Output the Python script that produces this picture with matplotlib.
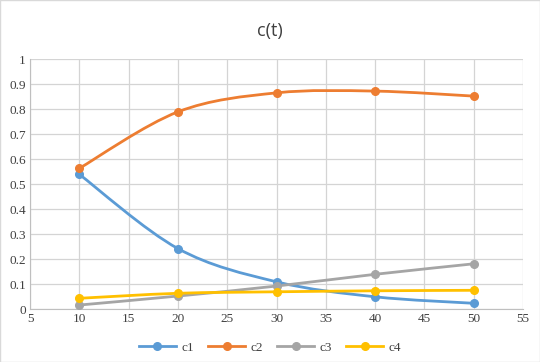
import numpy as np
import matplotlib
matplotlib.use("Agg")
import matplotlib.pyplot as plt
from matplotlib.path import Path
from matplotlib.patches import PathPatch, Rectangle
from matplotlib.lines import Line2D

t = [10, 20, 30, 40, 50]
c1 = [0.54, 0.243, 0.11, 0.05, 0.024]
c2 = [0.564, 0.79, 0.866, 0.873, 0.853]
c3 = [0.017, 0.053, 0.093, 0.14, 0.182]
c4 = [0.044, 0.064, 0.07, 0.074, 0.076]
names = ["c1", "c2", "c3", "c4"]
colors = ["#5B9BD5", "#ED7D31", "#A5A5A5", "#FFC000"]


def smooth_path(x, y):
    # Excel-style smoothed line: cubic bezier through the points
    p = np.column_stack([x, y]).astype(float)
    n = len(p)
    verts = [p[0]]
    codes = [Path.MOVETO]
    for i in range(n - 1):
        p0 = p[max(i - 1, 0)]
        p1 = p[i]
        p2 = p[i + 1]
        p3 = p[min(i + 2, n - 1)]
        verts += [p1 + (p2 - p0) / 6, p2 - (p3 - p1) / 6, p2]
        codes += [Path.CURVE4] * 3
    return Path(verts, codes)


fig = plt.figure(figsize=(5.4, 3.62), dpi=100)
ax = fig.add_axes([0.0556, 0.1456, 0.9129, 0.6904])

for vals, col in zip([c1, c2, c3, c4], colors):
    ax.add_patch(PathPatch(smooth_path(t, vals), facecolor="none",
                           edgecolor=col, lw=2.0, capstyle="round", zorder=3))
    ax.plot(t, vals, "o", color=col, ms=5.5, zorder=4)

ax.set_xlim(5, 55)
ax.set_ylim(0, 1)
ax.set_xticks(range(5, 56, 5))
ax.set_yticks(np.arange(0, 1.01, 0.1))
ax.set_yticklabels(["0", "0.1", "0.2", "0.3", "0.4", "0.5", "0.6", "0.7", "0.8", "0.9", "1"])
ax.grid(True, color="#d4d4d4", lw=0.9)
ax.set_axisbelow(True)
for s in ["top", "right"]:
    ax.spines[s].set_visible(False)
for s in ["left", "bottom"]:
    ax.spines[s].set_color("#bfbfbf")
ax.tick_params(length=0, colors="#404040", pad=3)
for lab in ax.get_xticklabels() + ax.get_yticklabels():
    lab.set_fontfamily("Liberation Serif")
    lab.set_fontsize(9.5)

fig.text(0.5, 0.915, "c(t)", ha="center", va="center", fontsize=13,
         family="Open Sans", color="#404040")

handles = [Line2D([], [], color=c, lw=2, marker="o", ms=5.5) for c in colors]
leg = fig.legend(handles, names, loc="center", bbox_to_anchor=(0.5, 0.04),
                 ncol=4, frameon=False, handlelength=2.8, columnspacing=1.1,
                 handletextpad=0.4, prop={"family": "Liberation Serif", "size": 9.5})
for txt in leg.get_texts():
    txt.set_color("#404040")

fig.patches.append(Rectangle((0, 0), 1, 1, transform=fig.transFigure,
                             fill=False, edgecolor="#d9d9d9", lw=1))

fig.savefig("out.png", dpi=100)
